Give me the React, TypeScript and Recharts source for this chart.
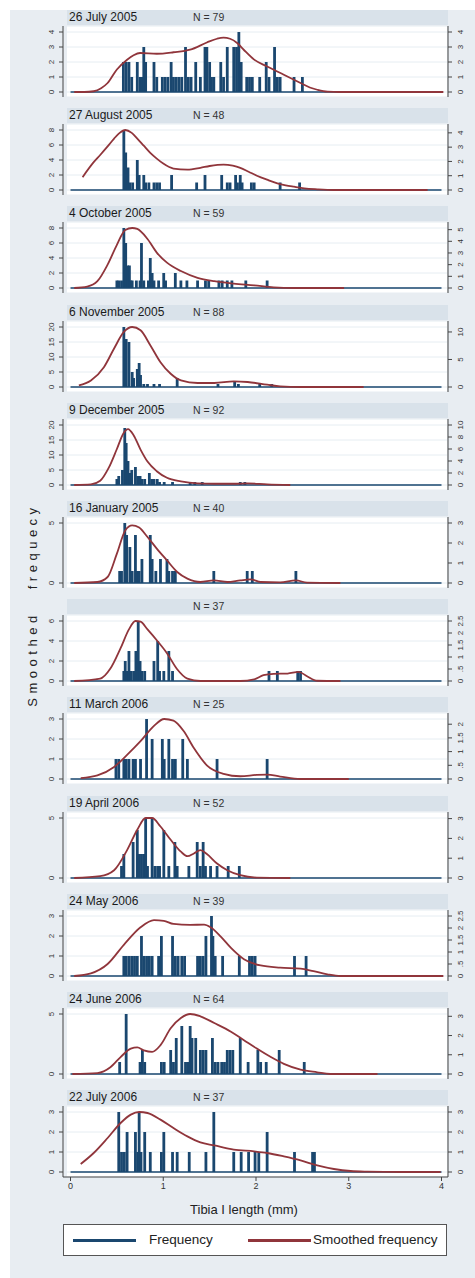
import React from 'react';
import { ComposedChart, Bar, Line, XAxis, YAxis, CartesianGrid, ReferenceLine } from 'recharts';

type Pair = [number, number];

// tibia length (mm), count
const jul05Freq: Pair[] = [[0.57,2],[0.6,2],[0.63,2],[0.66,1],[0.72,2],[0.75,1],[0.77,1],[0.79,3],[0.81,2],[0.9,2],[0.93,1],[0.99,1],[1.02,1],[1.05,1],[1.085,2],[1.11,1],[1.14,1],[1.17,1],[1.2,1],[1.24,3],[1.27,1],[1.3,1],[1.35,2],[1.4,1],[1.45,3],[1.47,3],[1.5,2],[1.52,1],[1.545,1],[1.62,2],[1.65,1],[1.69,3],[1.76,3],[1.79,3],[1.815,4],[1.84,2],[1.9,1],[1.93,1],[1.96,1],[2.04,1],[2.11,2],[2.14,1],[2.2,3],[2.23,1],[2.26,1],[2.41,1],[2.5,1]];
const aug05Freq: Pair[] = [[0.575,8],[0.595,5],[0.62,3],[0.64,1],[0.67,1],[0.72,4],[0.74,2],[0.79,2],[0.81,1],[0.845,1],[0.9,1],[0.93,1],[0.96,1],[1.09,2],[1.36,1],[1.45,2],[1.63,2],[1.69,1],[1.72,1],[1.78,2],[1.8,1],[1.83,2],[1.85,1],[1.95,1],[1.98,1],[2.26,1],[2.47,1]];
const oct05Freq: Pair[] = [[0.5,1],[0.52,1],[0.55,1],[0.575,8],[0.595,6],[0.615,3],[0.635,3],[0.65,1],[0.665,1],[0.71,1],[0.75,1],[0.765,6],[0.79,1],[0.84,1],[0.86,4],[0.88,2],[0.9,1],[0.95,1],[1.005,2],[1.025,1],[1.13,2],[1.19,1],[1.255,1],[1.37,1],[1.455,1],[1.49,1],[1.6,1],[1.635,1],[1.69,1],[1.74,1],[1.89,1],[2.12,1]];
const nov05Freq: Pair[] = [[0.575,20],[0.6,16],[0.63,15],[0.665,5],[0.68,3],[0.72,6],[0.74,8],[0.755,4],[0.79,1],[0.83,1],[0.9,1],[0.96,1],[1.15,3],[1.59,1],[1.77,2],[1.81,1],[2.04,1],[2.17,1]];
const dec05Freq: Pair[] = [[0.5,2],[0.52,3],[0.56,5],[0.585,19],[0.6,14],[0.62,8],[0.64,4],[0.66,5],[0.7,6],[0.725,3],[0.75,3],[0.77,2],[0.8,2],[0.85,4],[0.875,2],[0.9,2],[0.935,2],[0.96,1],[1.01,1],[1.1,1],[1.29,1],[1.34,1],[1.42,1],[1.83,1],[1.88,1]];
const jan06Freq: Pair[] = [[0.53,1],[0.55,1],[0.585,5],[0.605,4],[0.64,3],[0.665,1],[0.7,4],[0.72,1],[0.74,1],[0.77,2],[0.86,4],[0.88,2],[0.92,1],[0.97,2],[1.04,2],[1.06,1],[1.1,1],[1.13,1],[1.545,1],[1.905,1],[1.96,1],[2.43,1]];
const feb06Freq: Pair[] = [[0.575,1],[0.59,2],[0.61,1],[0.63,3],[0.65,1],[0.68,1],[0.705,3],[0.73,6],[0.75,2],[0.77,1],[0.8,1],[0.9,2],[0.94,4],[0.96,1],[1.006,1],[1.06,3],[1.1,1],[2.14,1],[2.23,1],[2.45,1],[2.48,1]];
const mar06Freq: Pair[] = [[0.49,1],[0.52,1],[0.575,1],[0.6,1],[0.63,1],[0.675,1],[0.7,1],[0.755,1],[0.82,3],[0.88,2],[0.99,2],[1.01,1],[1.06,2],[1.1,1],[1.13,1],[1.21,2],[1.26,1],[1.58,1],[2.12,1]];
const apr06Freq: Pair[] = [[0.55,1],[0.575,2],[0.675,3],[0.72,4],[0.74,2],[0.765,2],[0.79,2],[0.81,5],[0.83,1],[0.88,5],[0.91,1],[0.94,1],[0.96,1],[1.006,4],[1.06,1],[1.125,3],[1.15,1],[1.276,1],[1.366,3],[1.4,1],[1.43,3],[1.455,1],[1.51,1],[1.58,1],[1.7,1],[1.82,1]];
const may06Freq: Pair[] = [[0.575,1],[0.6,1],[0.63,1],[0.66,1],[0.69,1],[0.72,1],[0.765,2],[0.79,1],[0.82,1],[0.85,1],[0.88,1],[0.95,1],[0.98,2],[1.1,2],[1.13,1],[1.16,1],[1.2,1],[1.23,1],[1.37,1],[1.4,1],[1.43,1],[1.46,2],[1.52,3],[1.535,2],[1.56,1],[1.64,1],[1.82,1],[1.93,1],[1.96,1],[1.99,1],[2.415,1],[2.54,1]];
const jun06Freq: Pair[] = [[0.53,1],[0.6,5],[0.75,1],[0.775,2],[0.8,1],[0.98,1],[1.01,1],[1.08,2],[1.11,1],[1.14,3],[1.2,4],[1.24,1],[1.265,1],[1.29,4],[1.31,3],[1.35,3],[1.4,2],[1.43,2],[1.46,2],[1.53,3],[1.56,1],[1.59,1],[1.63,1],[1.66,1],[1.69,2],[1.72,2],[1.75,2],[1.83,3],[1.915,1],[2.02,2],[2.05,1],[2.11,1],[2.25,2],[2.52,1]];
const jul06Freq: Pair[] = [[0.52,3],[0.55,1],[0.58,1],[0.61,2],[0.7,2],[0.725,1],[0.74,3],[0.76,1],[0.8,2],[0.86,1],[0.98,1],[1.006,2],[1.1,1],[1.15,1],[1.28,1],[1.46,1],[1.545,3],[1.76,1],[1.84,1],[1.92,1],[1.99,1],[2.03,1],[2.12,2],[2.415,1],[2.61,1],[2.63,1]];

// tibia length (mm), smoothed frequency (right axis)
const jul05Smooth: Pair[] = [[0.04,0],[0.15,0],[0.25,0.05],[0.33,0.25],[0.4,0.6],[0.5,1.5],[0.61,2.15],[0.68,2.45],[0.75,2.6],[0.93,2.55],[1.11,2.65],[1.29,2.82],[1.47,3.3],[1.58,3.55],[1.65,3.62],[1.72,3.55],[1.8,3.25],[1.87,2.8],[1.98,2.16],[2.12,1.7],[2.3,1.15],[2.48,0.6],[2.58,0.3],[2.66,0.15],[2.77,0.02],[2.9,0],[3.5,0],[4.02,0]];
const aug05Smooth: Pair[] = [[0.13,0.9],[0.25,1.95],[0.32,2.45],[0.4,3.05],[0.47,3.6],[0.53,4.0],[0.59,4.2],[0.66,4.0],[0.72,3.6],[0.79,3.1],[0.86,2.6],[0.93,2.2],[1.0,1.85],[1.11,1.5],[1.26,1.42],[1.4,1.55],[1.5,1.68],[1.65,1.78],[1.75,1.7],[1.83,1.55],[1.92,1.28],[2.01,1.0],[2.12,0.72],[2.23,0.47],[2.32,0.33],[2.41,0.23],[2.52,0.12],[2.66,0.05],[2.84,0],[3.2,0],[3.85,0]];
const oct05Smooth: Pair[] = [[0.04,0],[0.18,0.12],[0.29,0.58],[0.4,2.0],[0.5,3.7],[0.59,4.97],[0.665,5.14],[0.72,5.06],[0.83,4.2],[0.93,3.03],[1.04,2.17],[1.19,1.45],[1.37,0.87],[1.55,0.58],[1.76,0.38],[1.98,0.23],[2.19,0.06],[2.41,0],[2.95,0]];
const nov05Smooth: Pair[] = [[0.09,0.3],[0.22,1.2],[0.36,3.6],[0.47,7.0],[0.575,10.0],[0.665,10.9],[0.755,10.3],[0.86,7.6],[0.97,4.5],[1.08,2.4],[1.19,1.2],[1.37,0.73],[1.55,0.73],[1.76,1.03],[1.91,0.91],[2.12,0.42],[2.26,0.12],[2.48,0],[3.16,0]];
const dec05Smooth: Pair[] = [[0.04,0],[0.22,0.1],[0.32,0.7],[0.41,2.8],[0.5,6.0],[0.57,8.6],[0.62,9.3],[0.68,8.3],[0.755,5.9],[0.83,3.9],[0.93,2.3],[1.04,1.2],[1.19,0.6],[1.37,0.27],[1.55,0.21],[1.76,0.21],[1.91,0.27],[2.12,0.1],[2.37,0]];
const jan06Smooth: Pair[] = [[0.04,0],[0.29,0.05],[0.4,0.3],[0.5,1.47],[0.59,2.63],[0.665,2.88],[0.74,2.77],[0.83,2.3],[0.93,1.72],[1.04,1.13],[1.15,0.55],[1.26,0.22],[1.4,0.05],[1.545,0.13],[1.69,0.05],[1.83,0.13],[1.94,0.18],[2.05,0.05],[2.26,0.03],[2.43,0.13],[2.55,0.02],[2.91,0]];
const feb06Smooth: Pair[] = [[0.04,0],[0.32,0.1],[0.43,0.52],[0.54,1.37],[0.63,2.15],[0.7,2.5],[0.755,2.47],[0.83,2.15],[0.93,1.7],[1.04,1.16],[1.15,0.49],[1.26,0.1],[1.4,0],[1.83,0],[1.98,0.07],[2.08,0.24],[2.19,0.3],[2.34,0.31],[2.46,0.38],[2.55,0.2],[2.66,0.01],[2.91,0]];
const mar06Smooth: Pair[] = [[0.11,0.03],[0.29,0.13],[0.47,0.44],[0.61,0.88],[0.755,1.38],[0.9,1.94],[1.01,2.19],[1.11,2.13],[1.22,1.75],[1.33,1.13],[1.47,0.5],[1.65,0.19],[1.83,0.1],[2.01,0.15],[2.12,0.16],[2.26,0.09],[2.48,0],[3.0,0]];
const apr06Smooth: Pair[] = [[0.04,0],[0.32,0.09],[0.47,0.39],[0.61,1.41],[0.72,2.44],[0.81,3.03],[0.88,3.03],[0.97,2.6],[1.08,1.93],[1.19,1.33],[1.26,1.1],[1.33,1.24],[1.4,1.41],[1.47,1.21],[1.58,0.73],[1.69,0.39],[1.83,0.14],[2.01,0.02],[2.37,0]];
const may06Smooth: Pair[] = [[0.04,0],[0.22,0.11],[0.4,0.5],[0.575,1.3],[0.755,2.03],[0.9,2.33],[1.006,2.3],[1.11,2.17],[1.29,2.13],[1.44,2.14],[1.51,2.03],[1.62,1.64],[1.73,1.17],[1.87,0.7],[2.05,0.44],[2.26,0.35],[2.48,0.31],[2.62,0.2],[2.77,0.07],[2.91,0],[4.02,0]];
const jun06Smooth: Pair[] = [[0.02,0],[0.29,0.05],[0.43,0.35],[0.54,0.88],[0.65,1.32],[0.72,1.38],[0.79,1.23],[0.88,1.15],[0.97,1.5],[1.08,2.38],[1.19,2.91],[1.29,3.12],[1.4,3.0],[1.55,2.65],[1.73,2.2],[1.87,1.76],[2.01,1.32],[2.16,0.88],[2.3,0.53],[2.48,0.23],[2.66,0.09],[2.8,0],[3.31,0]];
const jul06Smooth: Pair[] = [[0.11,0.4],[0.25,0.95],[0.4,1.7],[0.54,2.45],[0.65,2.87],[0.74,3.0],[0.83,2.95],[0.97,2.62],[1.11,2.2],[1.26,1.78],[1.4,1.48],[1.55,1.33],[1.76,1.12],[1.98,1.03],[2.12,0.95],[2.3,0.78],[2.48,0.58],[2.66,0.33],[2.84,0.15],[3.02,0.05],[3.2,0.02],[3.56,0],[3.99,0]];

const panelDates = ['26 July 2005', '27 August 2005', '4 October 2005', '6 November 2005', '9 December 2005', '16 January 2005', '', '11 March 2006', '19 April 2006', '24 May 2006', '24 June 2006', '22 July 2006'];
const panelN = [79, 48, 59, 88, 92, 40, 37, 25, 52, 39, 64, 37];

const leftTicks = [[0,1,2,3,4],[0,2,4,6,8],[0,2,4,6,8],[0,5,10,15,20],[0,5,10,15,20],[0,5],[0,2,4,6],[0,1,2,3],[0,5],[0,1,2,3],[0,5],[0,1,2,3]];
const rightTicks = [[0,1,2,3,4],[0,1,2,3,4],[0,1,2,3,4,5],[0,5,10],[0,2,4,6,8,10],[0,1,2,3],[0,0.5,1,1.5,2,2.5],[0,0.5,1,1.5,2],[0,1,2,3],[0,0.5,1,1.5,2,2.5],[0,1,2,3],[0,1,2,3]];
const xTicks = [0, 1, 2, 3, 4];

const freqs = [jul05Freq, aug05Freq, oct05Freq, nov05Freq, dec05Freq, jan06Freq, feb06Freq, mar06Freq, apr06Freq, may06Freq, jun06Freq, jul06Freq];
const smooths = [jul05Smooth, aug05Smooth, oct05Smooth, nov05Smooth, dec05Smooth, jan06Smooth, feb06Smooth, mar06Smooth, apr06Smooth, may06Smooth, jun06Smooth, jul06Smooth];

const NAVY = '#1a476f';
const MAROON = '#90353b';
const FONT = '"Liberation Sans", Arial, sans-serif';
const PITCH = 98.2;
const PLOT_TOP = 26;
const PLOT_H = 71;
const SPIKE_W = 2.8;

const fmt = (v: number) => (v > 0 && v < 1 ? String(v).slice(1) : String(v));

const sideTick = (cx: number) => (props: any) => (
  <text
    transform={`translate(${cx},${props.y}) rotate(-90)`}
    textAnchor="middle"
    dy="0.35em"
    fontSize={8}
    fill="#333"
    fontFamily={FONT}
  >
    {fmt(props.payload.value)}
  </text>
);

// bar centred on its x value with a fixed spike width
const Spike = (props: any) => {
  const { x, y, width, height } = props;
  if (!height) return null;
  return <rect x={x + width / 2 - SPIKE_W / 2} y={y} width={SPIKE_W} height={height} fill={NAVY} />;
};

function buildRows(freq: Pair[], smooth: Pair[]) {
  const map = new Map<number, { x: number; f?: number; s?: number }>();
  freq.forEach(([x, f]) => map.set(x, { ...(map.get(x) || { x }), f }));
  smooth.forEach(([x, s]) => map.set(x, { ...(map.get(x) || { x }), s }));
  return [...map.values()].sort((a, b) => a.x - b.x);
}

function Panel({ i }: { i: number }) {
  const rows = buildRows(freqs[i], smooths[i]);
  const leftTop = Math.max(...freqs[i].map((d) => d[1]), ...leftTicks[i]);
  const rightTop = Math.max(...smooths[i].map((d) => d[1]), ...rightTicks[i]);
  const last = i === freqs.length - 1;
  const top = PLOT_TOP + PITCH * i;
  const axisStyle = { stroke: '#444' };

  return (
    <>
      <div style={{ position: 'absolute', left: 67, top: top - 16, width: 381, height: 15, background: '#d9e2ea', fontFamily: FONT, color: '#1a1a1a' }}>
        <span style={{ position: 'absolute', left: 2, top: 0, fontSize: 12, lineHeight: '15px' }}>{panelDates[i]}</span>
        <span style={{ position: 'absolute', left: 126, top: 0, fontSize: 10.5, lineHeight: '15px', color: '#333' }}>N = {panelN[i]}</span>
      </div>
      <div style={{ position: 'absolute', left: 67, top, width: 380, height: PLOT_H, background: '#fff' }} />
      <div style={{ position: 'absolute', left: 0, top }}>
        <ComposedChart width={475} height={PLOT_H + (last ? 24 : 0)} data={rows} margin={{ top: 0, right: 0, bottom: 0, left: 0 }}>
          <CartesianGrid yAxisId="left" vertical={false} stroke="#e6edf2" />
          <XAxis
            type="number"
            dataKey="x"
            domain={[-0.081, 4.07]}
            ticks={xTicks}
            interval={0}
            hide={!last}
            height={24}
            tickSize={4}
            axisLine={axisStyle}
            tickLine={axisStyle}
            tick={{ fontSize: 9, fill: '#333', fontFamily: FONT }}
          />
          <YAxis
            yAxisId="left"
            width={63}
            domain={[0, leftTop]}
            ticks={leftTicks[i]}
            interval={0}
            padding={{ top: 6, bottom: 5 }}
            tickSize={4}
            axisLine={axisStyle}
            tickLine={axisStyle}
            tick={sideTick(51)}
          />
          <YAxis
            yAxisId="right"
            orientation="right"
            width={27}
            domain={[0, rightTop]}
            ticks={rightTicks[i]}
            interval={0}
            padding={{ top: 6, bottom: 5 }}
            tickSize={4}
            axisLine={axisStyle}
            tickLine={axisStyle}
            tick={sideTick(460)}
          />
          <Bar yAxisId="left" dataKey="f" fill={NAVY} shape={Spike} isAnimationActive={false} />
          <ReferenceLine yAxisId="left" segment={[{ x: 0, y: 0 }, { x: 4, y: 0 }]} stroke={NAVY} strokeWidth={1.6} />
          <Line
            yAxisId="right"
            dataKey="s"
            type="monotone"
            stroke={MAROON}
            strokeWidth={1.8}
            dot={false}
            connectNulls
            isAnimationActive={false}
          />
        </ComposedChart>
      </div>
    </>
  );
}

export default function App() {
  return (
    <div style={{ position: 'relative', width: 475, height: 1278, background: '#fff', fontFamily: FONT }}>
      <style>{'body{margin:0}'}</style>
      <div style={{ position: 'absolute', left: 10, top: 10, width: 465, height: 1268, background: '#e8edf2' }} />
      {freqs.map((_, i) => (
        <Panel key={i} i={i} />
      ))}
      <div
        style={{
          position: 'absolute',
          left: 33 - 130,
          top: 605 - 9,
          width: 260,
          height: 18,
          lineHeight: '18px',
          textAlign: 'center',
          transform: 'rotate(-90deg)',
          fontSize: 13,
          letterSpacing: 4.5,
          wordSpacing: 14,
          color: '#222',
        }}
      >
        Smoothed frequecy
      </div>
      <div style={{ position: 'absolute', left: 144, width: 200, top: 1202, textAlign: 'center', fontSize: 13, color: '#222' }}>
        Tibia I length (mm)
      </div>
      <div style={{ position: 'absolute', left: 63, top: 1224, width: 382, height: 30, background: '#fff', border: '1px solid #555' }}>
        <div style={{ position: 'absolute', left: 9, top: 14, width: 63, height: 3, background: NAVY }} />
        <span style={{ position: 'absolute', left: 85, top: 7, fontSize: 13.5, color: '#222' }}>Frequency</span>
        <div style={{ position: 'absolute', left: 184, top: 14, width: 63, height: 3, background: MAROON }} />
        <span style={{ position: 'absolute', left: 249, top: 7, fontSize: 13.5, color: '#222' }}>Smoothed frequency</span>
      </div>
    </div>
  );
}
